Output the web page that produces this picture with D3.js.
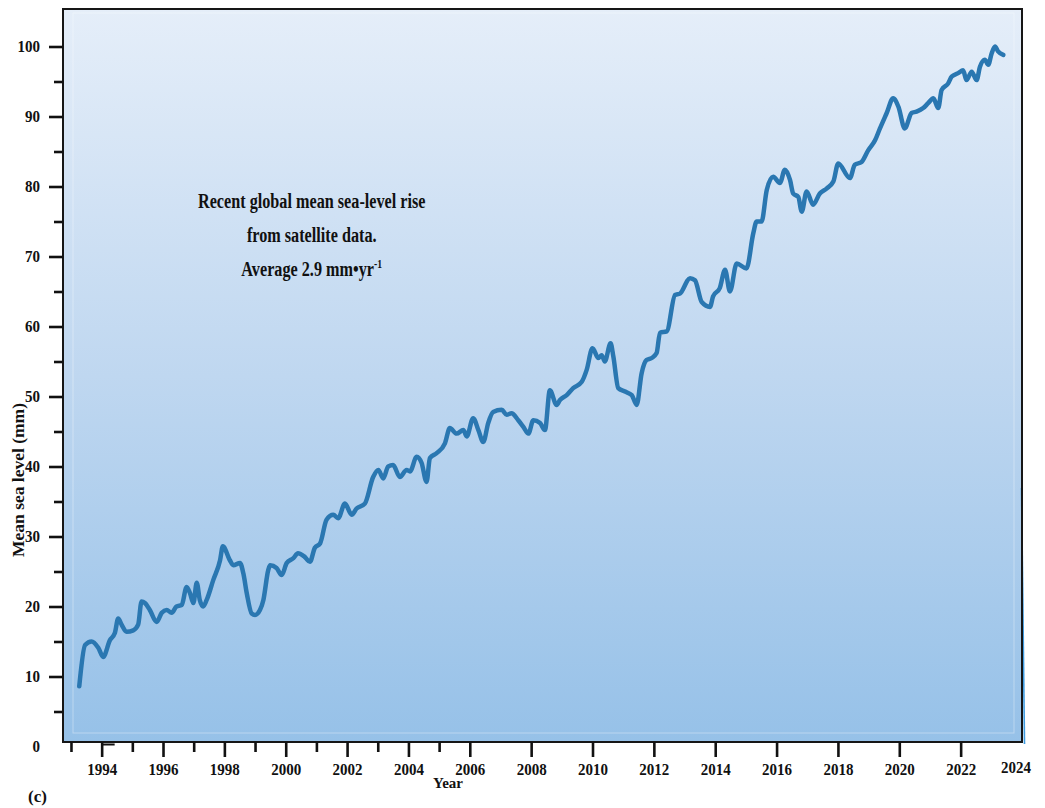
<!DOCTYPE html>
<html><head><meta charset="utf-8">
<script src="https://cdn.jsdelivr.net/npm/d3@7"></script>
<style>
html,body{margin:0;padding:0;background:#fff;}
svg{display:block;}
text{font-family:"Liberation Serif","Times New Roman",serif;font-weight:bold;fill:#111;}
</style></head><body>
<svg id="chart" width="1045" height="808"></svg>
<script>
// ---- data ----
const years = [1993.27,1993.46,1993.67,1993.89,1994.05,1994.27,1994.43,1994.54,1994.65,1994.81,
1995.03,1995.19,1995.30,1995.41,1995.57,1995.79,1995.96,1996.12,1996.28,1996.44,
1996.61,1996.77,1996.88,1996.99,1997.10,1997.20,1997.31,1997.42,1997.64,1997.86,
1997.95,1998.18,1998.29,1998.51,1998.62,1998.73,1998.89,1999.00,1999.16,1999.27,
1999.43,1999.49,1999.70,1999.87,2000.03,2000.25,2000.40,2000.59,2000.79,2000.95,
2001.12,2001.33,2001.55,2001.71,2001.93,2002.15,2002.31,2002.58,2002.85,2003.02,
2003.18,2003.34,2003.50,2003.72,2003.94,2004.05,2004.27,2004.43,2004.59,2004.70,
2004.92,2005.19,2005.35,2005.57,2005.79,2005.90,2006.11,2006.28,2006.44,2006.60,
2006.76,2007.04,2007.20,2007.36,2007.58,2007.74,2007.91,2008.07,2008.29,2008.45,
2008.61,2008.83,2008.94,2009.16,2009.37,2009.65,2009.81,2010.00,2010.19,2010.30,
2010.40,2010.59,2010.68,2010.84,2011.06,2011.28,2011.44,2011.60,2011.76,2011.93,
2012.09,2012.20,2012.42,2012.69,2012.85,2013.18,2013.34,2013.56,2013.83,2013.93,
2014.15,2014.32,2014.48,2014.70,2015.02,2015.24,2015.35,2015.51,2015.68,2015.89,
2016.11,2016.27,2016.44,2016.54,2016.71,2016.82,2016.98,2017.19,2017.41,2017.63,
2017.85,2018.01,2018.39,2018.55,2018.77,2018.99,2019.21,2019.37,2019.59,2019.80,
2019.97,2020.18,2020.40,2020.56,2020.78,2020.94,2021.11,2021.27,2021.38,2021.59,
2021.71,2021.92,2022.08,2022.19,2022.36,2022.52,2022.63,2022.79,2022.90,2023.01,
2023.12,2023.22,2023.39];
const seaLevelMM = [8.6,14.5,15.0,14.1,12.8,15.2,16.2,18.3,17.4,16.4,
16.6,17.4,20.7,20.5,19.5,17.8,19.1,19.5,19.1,20.0,
20.2,22.8,21.9,20.5,23.4,20.9,20.0,20.9,23.8,26.6,
28.6,26.6,25.9,26.2,24.7,21.9,19.0,18.8,19.5,20.9,
25.2,25.9,25.5,24.5,26.2,26.9,27.6,27.2,26.4,28.4,
29.0,32.4,33.1,32.6,34.7,33.1,34.0,34.7,38.5,39.5,
38.3,40.0,40.2,38.5,39.5,39.3,41.4,40.5,37.8,41.2,
41.9,43.3,45.5,44.7,45.2,44.3,46.9,45.2,43.5,46.2,
47.8,48.1,47.4,47.6,46.6,45.7,44.7,46.6,46.2,45.2,
50.9,48.8,49.5,50.2,51.2,52.1,53.8,56.9,55.5,55.9,
55.0,57.6,55.7,51.2,50.7,50.2,48.8,53.3,55.2,55.5,
56.2,59.1,59.3,64.5,64.7,66.9,66.6,63.5,62.8,64.3,
65.5,68.1,65.0,69.0,68.3,73.3,75.0,75.0,79.5,81.4,
80.5,82.4,80.9,79.0,78.5,76.4,79.3,77.4,79.0,79.7,
80.7,83.3,81.2,83.1,83.5,85.2,86.6,88.3,90.5,92.6,
91.4,88.3,90.5,90.7,91.2,91.9,92.6,91.2,93.8,94.7,
95.7,96.2,96.6,95.2,96.4,95.2,97.1,98.1,97.4,99.0,
100.0,99.3,98.8];
const yMajorTicks = [0,10,20,30,40,50,60,70,80,90,100];
const yMinorTicks = [5,15,25,35,45,55,65,75,85,95];
const xMajorTicks = [1994,1996,1998,2000,2002,2004,2006,2008,2010,2012,2014,2016,2018,2020,2022];
const xMinorTicks = [1993,1995,1997,1999,2001,2003,2005];
const xEndLabel = 2024;
const noteLines = ["Recent global mean sea-level rise","from satellite data.","Average 2.9 mm\u2022yr"];
const noteSup = "-1";
const xTitle = "Year";
const yTitle = "Mean sea level (mm)";
const panelTag = "(c)";

// ---- layout ----
const svg = d3.select("#chart");
const frame = {left:63, right:1022, top:9, bottom:742};
const x = d3.scaleLinear().domain([1992.74, 2024]).range([frame.left, frame.right]);
const y = d3.scaleLinear().domain([0, 100]).range([746.5, 46.5]);
const digitW = 7.5;

const defs = svg.append("defs");
const grad = defs.append("linearGradient").attr("id","bg").attr("x1",0).attr("y1",0).attr("x2",0).attr("y2",1);
grad.append("stop").attr("offset","0%").attr("stop-color","#e5eef9");
grad.append("stop").attr("offset","50%").attr("stop-color","#bfd7f0");
grad.append("stop").attr("offset","100%").attr("stop-color","#96c1e8");
const blur = defs.append("filter").attr("id","soft").attr("x","-5%").attr("y","-5%").attr("width","110%").attr("height","110%");
blur.append("feGaussianBlur").attr("stdDeviation",0.55);

// background panel
svg.append("rect").attr("x",frame.left).attr("y",frame.top)
  .attr("width",frame.right-frame.left).attr("height",frame.bottom-frame.top)
  .attr("fill","url(#bg)");
// faint inner border
svg.append("rect").attr("x",73).attr("y",13).attr("width",1014-73).attr("height",733-13)
  .attr("fill","none").attr("stroke","rgba(255,255,255,0.35)").attr("stroke-width",1);

// right-edge blue stroke
svg.append("line").attr("x1",1021.5).attr("y1",488).attr("x2",1024.5).attr("y2",744)
  .attr("stroke","#3f9be0").attr("stroke-width",1.6);

// line
const line = d3.line().x((d,i)=>x(years[i])).y(d=>y(d)).curve(d3.curveMonotoneX);
svg.append("path").datum(seaLevelMM).attr("d",line)
  .attr("fill","none").attr("stroke","#2a77b1").attr("stroke-width",4.5)
  .attr("stroke-linejoin","round").attr("stroke-linecap","round")
  .attr("filter","url(#soft)");

// frame
svg.append("rect").attr("x",frame.left).attr("y",frame.top)
  .attr("width",frame.right-frame.left).attr("height",frame.bottom-frame.top)
  .attr("fill","none").attr("stroke","#161616").attr("stroke-width",2);

function styleLabels(sel){
  sel.attr("font-size",17).attr("fill","#111")
    .style("font-family","'Liberation Serif','Times New Roman',serif").style("font-weight","bold")
    .attr("textLength",function(){ return digitW*this.textContent.length; })
    .attr("lengthAdjust","spacingAndGlyphs");
}

// y axis
const yAxisG = svg.append("g").attr("transform",`translate(${frame.left},0)`)
  .call(d3.axisLeft(y).tickValues(yMajorTicks).tickSize(14).tickPadding(9).tickFormat(d3.format("d")));
yAxisG.select(".domain").remove();
yAxisG.selectAll(".tick line").attr("stroke","#111").attr("stroke-width",2.6);
yAxisG.selectAll(".tick").filter(d=>d===0).select("line").remove();
styleLabels(yAxisG.selectAll(".tick text"));
const yMinorG = svg.append("g").attr("transform",`translate(${frame.left},0)`)
  .call(d3.axisLeft(y).tickValues(yMinorTicks).tickSize(9).tickFormat(""));
yMinorG.select(".domain").remove();
yMinorG.selectAll(".tick line").attr("stroke","#111").attr("stroke-width",2.6);

// x axis
const xAxisG = svg.append("g").attr("transform",`translate(0,${frame.bottom})`)
  .call(d3.axisBottom(x).tickValues(xMajorTicks).tickSize(15).tickPadding(6).tickFormat(d3.format("d")));
xAxisG.select(".domain").remove();
xAxisG.selectAll(".tick line").attr("stroke","#111").attr("stroke-width",2.6);
styleLabels(xAxisG.selectAll(".tick text"));
const xMinorG = svg.append("g").attr("transform",`translate(0,${frame.bottom})`)
  .call(d3.axisBottom(x).tickValues(xMinorTicks).tickSize(10).tickFormat(""));
xMinorG.select(".domain").remove();
xMinorG.selectAll(".tick line").attr("stroke","#111").attr("stroke-width",2.6);
// small stub next to 1994 tick
svg.append("line").attr("x1",x(1994)).attr("x2",x(1994)+13).attr("y1",744.5).attr("y2",744.5)
  .attr("stroke","#111").attr("stroke-width",2);
// end label
styleLabels(svg.append("text").attr("x",x(xEndLabel)-6).attr("y",772.5).attr("text-anchor","middle").text(xEndLabel));

// titles
svg.append("text").attr("x",448).attr("y",788).attr("text-anchor","middle").attr("font-size",15).text(xTitle);
svg.append("text").attr("transform","translate(23.5,480) rotate(-90)").attr("text-anchor","middle")
  .attr("font-size",16).attr("textLength",154).attr("lengthAdjust","spacingAndGlyphs").text(yTitle);
svg.append("text").attr("x",28).attr("y",802).attr("font-size",17).text(panelTag);

// annotation
const noteY = [208, 241.7, 276];
noteLines.forEach((t,i)=>{
  const g = svg.append("g").attr("transform",`translate(311.7,${noteY[i]}) scale(0.81,1)`);
  const tx = g.append("text").attr("x",0).attr("y",0).attr("text-anchor","middle").attr("font-size",20);
  tx.append("tspan").text(t);
  if(i===2){ tx.append("tspan").attr("font-size",12).attr("dy",-8).text(noteSup); }
});
</script>
</body></html>
